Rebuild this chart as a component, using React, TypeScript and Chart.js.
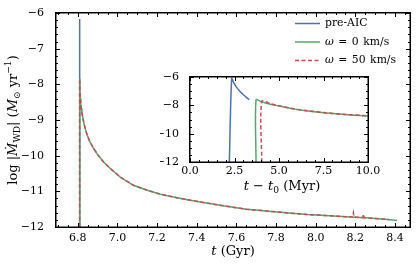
import React, { useEffect, useRef } from "react";
import { Chart, registerables } from "chart.js";
Chart.register(...registerables);

const FONT = "'DejaVu Serif', serif";

// ---- data (main panel, Gyr) ----
const mainXTicks = [6.8, 7.0, 7.2, 7.4, 7.6, 7.8, 8.0, 8.2, 8.4];
const mainYTicks = [-12, -11, -10, -9, -8, -7, -6];
const insetXTicks = [0, 2.5, 5, 7.5, 10];
const insetYTicks = [-12, -10, -8, -6];

const preAicT = [6.8088, 6.8089, 6.8098];
const preAicLog = [-12, -6.17, -7.6];

const w0T = [6.809, 6.809, 6.8105, 6.8125, 6.815, 6.818, 6.821, 6.825, 6.83, 6.838, 6.846, 6.86, 6.88, 6.9, 6.93, 6.964, 7.014, 7.081, 7.15, 7.216, 7.3, 7.367, 7.45, 7.55, 7.65, 7.75, 7.85, 7.957, 8.05, 8.15, 8.25, 8.35, 8.411];
const w0Log = [-12, -7.84, -8.15, -8.38, -8.55, -8.68, -8.8, -8.93, -9.07, -9.25, -9.4, -9.6, -9.8, -9.97, -10.18, -10.36, -10.6, -10.83, -10.97, -11.08, -11.18, -11.25, -11.33, -11.42, -11.5, -11.55, -11.6, -11.65, -11.68, -11.71, -11.74, -11.78, -11.82];

const w50T = [6.8092, 6.8092, 6.8105, 6.8125, 6.815, 6.818, 6.821, 6.825, 6.83, 6.838, 6.846, 6.86, 6.88, 6.9, 6.93, 6.964, 7.014, 7.081, 7.15, 7.216, 7.3, 7.367, 7.45, 7.55, 7.65, 7.75, 7.85, 7.957, 8.05, 8.15, 8.185, 8.19, 8.193, 8.238, 8.241, 8.244, 8.3, 8.37];
const w50Log = [-12, -7.84, -8.15, -8.38, -8.55, -8.68, -8.8, -8.93, -9.07, -9.25, -9.4, -9.6, -9.8, -9.97, -10.18, -10.36, -10.6, -10.83, -10.97, -11.08, -11.18, -11.25, -11.33, -11.42, -11.5, -11.55, -11.6, -11.65, -11.68, -11.71, -11.72, -11.6, -11.72, -11.74, -11.64, -11.74, -11.76, -11.79];

// ---- data (inset, Myr since t0) ----
const inPreT = [2.21, 2.34, 2.45, 2.6, 2.8, 3.0, 3.2, 3.33];
const inPreLog = [-12, -6.1, -6.4, -6.7, -7.0, -7.25, -7.47, -7.6];

const inW0T = [3.71, 3.71, 4.0, 4.5, 5.0, 5.8, 6.5, 7.5, 8.5, 10.0, 10.5];
const inW0Log = [-12, -7.62, -7.75, -7.92, -8.05, -8.25, -8.38, -8.52, -8.63, -8.75, -8.78];

const inW50T = [4.03, 4.03, 4.5, 5.0, 5.8, 6.5, 7.5, 8.5, 10.0, 10.5];
const inW50Log = [-12, -7.72, -7.88, -8.03, -8.24, -8.37, -8.51, -8.62, -8.74, -8.77];

const legendLabels = ["pre-AIC", "0", "50"];

const BLUE = "#4c72b0";
const GREEN = "#55a868";
const RED = "#c44e52";

const pts = (xs: number[], ys: number[]) => xs.map((x, i) => ({ x, y: ys[i] }));

type Run = { t: string; it?: boolean; s?: number; dy?: number; gap?: number };

function drawRuns(ctx: CanvasRenderingContext2D, runs: Run[], size: number, cx: number, cy: number, rot = 0, align: "center" | "left" = "center") {
  ctx.save();
  ctx.translate(cx, cy);
  ctx.rotate(rot);
  ctx.textBaseline = "middle";
  ctx.textAlign = "left";
  ctx.fillStyle = "#000";
  const fonts = runs.map((r) => `${r.it ? "italic " : ""}${(r.s ?? 1) * size}px ${FONT}`);
  let total = 0;
  const widths = runs.map((r, i) => {
    ctx.font = fonts[i];
    const w = r.gap !== undefined ? r.gap : ctx.measureText(r.t).width;
    total += w;
    return w;
  });
  let x = align === "center" ? -total / 2 : 0;
  runs.forEach((r, i) => {
    ctx.font = fonts[i];
    if (r.gap === undefined) ctx.fillText(r.t, x, (r.dy ?? 0) * size);
    x += widths[i];
  });
  ctx.restore();
}

function tickValues(s: any): number[] {
  return (s.ticks || []).map((t: any) => t.value);
}

function drawFrameTicks(chart: any, xMinor: number, yMinor: number) {
  const ctx: CanvasRenderingContext2D = chart.ctx;
  const a = chart.chartArea;
  const xs = chart.scales.x, ys = chart.scales.y;
  const L = Math.round(a.left), R = Math.round(a.right), T = Math.round(a.top), B = Math.round(a.bottom);
  ctx.save();
  ctx.fillStyle = "#000";
  const maj = 4, mnr = 2;
  const majX = tickValues(xs);
  const majY = tickValues(ys);
  const isMaj = (v: number, arr: number[]) => arr.some((m) => Math.abs(m - v) < 1e-6);
  for (let k = Math.ceil(xs.min / xMinor - 1e-9); k * xMinor <= xs.max + 1e-9; k++) {
    const v = k * xMinor;
    const p = Math.round(xs.getPixelForValue(v));
    const len = isMaj(v, majX) ? maj : mnr;
    ctx.fillRect(p, B - len, 1, len);
    ctx.fillRect(p, T, 1, len);
  }
  for (let k = Math.ceil(ys.min / yMinor - 1e-9); k * yMinor <= ys.max + 1e-9; k++) {
    const v = k * yMinor;
    const p = Math.round(ys.getPixelForValue(v));
    const len = isMaj(v, majY) ? maj : mnr;
    ctx.fillRect(L, p, len, 1);
    ctx.fillRect(R - len, p, len, 1);
  }
  ctx.fillRect(L - 1, T - 1, R - L + 2, 1.5);
  ctx.fillRect(L - 1, B - 0.5, R - L + 2, 1.5);
  ctx.fillRect(L - 1, T - 1, 1.5, B - T + 2);
  ctx.fillRect(R - 0.5, T - 1, 1.5, B - T + 2);
  ctx.restore();
}

const minusFmt = (v: number) => (v < 0 ? "\u2212" + Math.abs(v) : String(v));

export default function App() {
  const mainRef = useRef<HTMLCanvasElement>(null);
  const insetRef = useRef<HTMLCanvasElement>(null);

  useEffect(() => {
    const tickFont = { family: FONT, size: 11 };
    const mainDecor = {
      id: "mainDecor",
      afterDraw(chart: any) {
        const { ctx, chartArea: a } = chart;
        drawFrameTicks(chart, 0.05, 0.2);
        drawRuns(ctx, [{ t: "t", it: true }, { t: " (Gyr)" }], 13, (a.left + a.right) / 2, 252);
        drawRuns(
          ctx,
          [
            { t: "log |" },
            { t: "\u1E40", it: true },
            { t: "WD", s: 0.7, dy: 0.25 },
            { t: "| (" },
            { t: "M", it: true },
            { t: "\u2299", s: 0.7, dy: 0.25 },
            { t: " yr" },
            { t: "\u22121", s: 0.7, dy: -0.38 },
            { t: ")" },
          ],
          13,
          14,
          (a.top + a.bottom) / 2,
          -Math.PI / 2
        );
        const omegaRuns = (val: string): Run[] => [
          { t: "\u03C9", it: true },
          { t: "", gap: 4.5 },
          { t: "=" },
          { t: "", gap: 4.5 },
          { t: val },
          { t: "", gap: 4.5 },
          { t: "km/s" },
        ];
        const items = [
          { c: BLUE, d: [] as number[], runs: [{ t: legendLabels[0] }] as Run[] },
          { c: GREEN, d: [], runs: omegaRuns(legendLabels[1]) },
          { c: RED, d: [4, 2.5], runs: omegaRuns(legendLabels[2]) },
        ];
        items.forEach((it, i) => {
          const y = 23.5 + i * 18.5;
          ctx.save();
          ctx.strokeStyle = it.c;
          ctx.lineWidth = 1.5;
          ctx.setLineDash(it.d);
          ctx.beginPath();
          ctx.moveTo(295, y);
          ctx.lineTo(320, y);
          ctx.stroke();
          ctx.restore();
          drawRuns(ctx, it.runs, 10.8, 325, y, 0, "left");
        });
      },
    };
    const main = new Chart(mainRef.current!, {
      type: "line",
      data: {
        datasets: [
          { label: "pre-AIC", data: pts(preAicT, preAicLog), borderColor: BLUE, borderWidth: 1.5, pointRadius: 0, order: 2 },
          { label: "w0", data: pts(w0T, w0Log), borderColor: GREEN, borderWidth: 1.5, pointRadius: 0, order: 1 },
          { label: "w50", data: pts(w50T, w50Log), borderColor: RED, borderWidth: 1.5, borderDash: [4, 2.5], pointRadius: 0, order: 0 },
        ],
      },
      options: {
        animation: false,
        responsive: false,
        maintainAspectRatio: false,
        layout: { padding: { left: 0, top: 13, right: 6, bottom: 0 } },
        plugins: { legend: { display: false }, tooltip: { enabled: false } },
        elements: { line: { tension: 0 } },
        scales: {
          x: {
            type: "linear",
            min: 6.69,
            max: 8.4756,
            grid: { display: false },
            border: { display: false },
            afterBuildTicks: (s: any) => { s.ticks = mainXTicks.map((v) => ({ value: v })); },
            afterFit: (s: any) => { s.height = 39; },
            ticks: { font: tickFont, color: "#000", padding: -3, maxRotation: 0, autoSkip: false, callback: (v: any) => Number(v).toFixed(1) },
          },
          y: {
            type: "linear",
            min: -12,
            max: -6,
            grid: { display: false },
            border: { display: false },
            afterBuildTicks: (s: any) => { s.ticks = mainYTicks.map((v) => ({ value: v })); },
            afterFit: (s: any) => { s.width = 56; },
            ticks: { font: tickFont, color: "#000", padding: 4, autoSkip: false, callback: (v: any) => minusFmt(Number(v)) },
          },
        },
      },
      plugins: [mainDecor],
    } as any);

    const insetDecor = {
      id: "insetDecor",
      afterDraw(chart: any) {
        const { ctx, chartArea: a } = chart;
        drawFrameTicks(chart, 0.5, 0.5);
        drawRuns(
          ctx,
          [{ t: "t", it: true }, { t: " \u2212 " }, { t: "t", it: true }, { t: "0", s: 0.7, dy: 0.25 }, { t: " (Myr)" }],
          13,
          (a.left + a.right) / 2 + 3,
          187 - 66
        );
      },
    };
    const inset = new Chart(insetRef.current!, {
      type: "line",
      data: {
        datasets: [
          { data: pts(inPreT, inPreLog), borderColor: BLUE, borderWidth: 1.5, pointRadius: 0, order: 2 },
          { data: pts(inW0T, inW0Log), borderColor: GREEN, borderWidth: 1.5, pointRadius: 0, order: 1 },
          { data: pts(inW50T, inW50Log), borderColor: RED, borderWidth: 1.5, borderDash: [4, 2.5], pointRadius: 0, order: 0 },
        ],
      },
      options: {
        animation: false,
        responsive: false,
        maintainAspectRatio: false,
        layout: { padding: { left: 0, top: 11, right: 17, bottom: 0 } },
        plugins: { legend: { display: false }, tooltip: { enabled: false } },
        elements: { line: { tension: 0.3 } },
        scales: {
          x: {
            type: "linear",
            min: 0,
            max: 10,
            grid: { display: false },
            border: { display: false },
            afterBuildTicks: (s: any) => { s.ticks = insetXTicks.map((v) => ({ value: v })); },
            afterFit: (s: any) => { s.height = 39; },
            ticks: { font: tickFont, color: "#000", padding: -5, maxRotation: 0, autoSkip: false, callback: (v: any) => Number(v).toFixed(1) },
          },
          y: {
            type: "linear",
            min: -12,
            max: -6,
            grid: { display: false },
            border: { display: false },
            afterBuildTicks: (s: any) => { s.ticks = insetYTicks.map((v) => ({ value: v })); },
            afterFit: (s: any) => { s.width = 30; },
            ticks: { font: tickFont, color: "#000", padding: 3, autoSkip: false, callback: (v: any) => minusFmt(Number(v)) },
          },
        },
      },
      plugins: [insetDecor],
    } as any);

    return () => {
      main.destroy();
      inset.destroy();
    };
  }, []);

  return (
    <div style={{ position: "fixed", left: 0, top: 0, width: 416, height: 266, background: "#fff" }}>
      <canvas ref={mainRef} width={416} height={266} style={{ position: "absolute", left: 0, top: 0, width: 416, height: 266 }} />
      <canvas ref={insetRef} width={225} height={135} style={{ position: "absolute", left: 160, top: 66, width: 225, height: 135 }} />
    </div>
  );
}
